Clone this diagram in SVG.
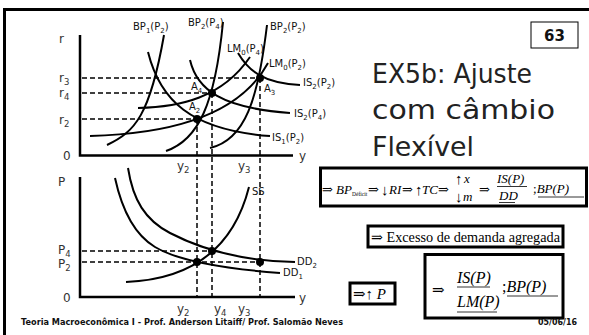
<svg xmlns="http://www.w3.org/2000/svg" width="589" height="335" viewBox="0 0 589 335">
<style>
.frame{fill:none;stroke:#000;stroke-width:3}
.ax{fill:none;stroke:#000;stroke-width:2.5}
.cv{fill:none;stroke:#000;stroke-width:2}
.ds{fill:none;stroke:#000;stroke-width:1.5;stroke-dasharray:5 3}
.dot{fill:#000}
.lb{font-family:"DejaVu Sans",sans-serif;font-size:10px;fill:#111}
.al{font-family:"DejaVu Sans",sans-serif;font-size:12px;fill:#333}
.sb{font-size:7px}
.s9{font-size:8.5px}
.ttl{font-family:"DejaVu Sans",sans-serif;font-size:27px;fill:#222}
.bx{fill:#fff;stroke:#000;stroke-width:3}
.fm{font-family:"Liberation Serif","DejaVu Serif",serif;fill:#000}
.f1{font-size:13px}
.ar{font-size:13px}
.vr{font-size:15px}
.it{font-style:italic}
.ul{stroke:#000;stroke-width:0.8}
.ft{font-family:"DejaVu Sans",sans-serif;font-weight:bold;font-size:8.5px;fill:#111}
</style>
<g id="frame">
<line class="frame" x1="4" y1="9.5" x2="589" y2="9.5"/>
<line class="frame" x1="4.5" y1="8" x2="4.5" y2="335"/>
</g>
<g id="page-number">
<rect x="531" y="22" width="47" height="26" fill="#fff" stroke="#000" stroke-width="1"/>
<text x="554.5" y="41" text-anchor="middle" font-family="DejaVu Sans,sans-serif" font-weight="bold" font-size="15" fill="#111">63</text>
</g>
<g id="title">
<text class="ttl" x="372" y="83" textLength="160" lengthAdjust="spacingAndGlyphs">EX5b: Ajuste</text>
<text class="ttl" x="372" y="119" textLength="183" lengthAdjust="spacingAndGlyphs">com câmbio</text>
<text class="ttl" x="372" y="156" textLength="102" lengthAdjust="spacingAndGlyphs">Flexível</text>
</g>
<g id="axes">
<polyline class="ax" points="80,35 80,155.5 293,155.5"/>
<polyline class="ax" points="80,177 80,297 295,297"/>
<text class="al" x="59" y="43">r</text>
<text class="al" x="59" y="82">r<tspan class="s9" dy="2.5">3</tspan></text>
<text class="al" x="59" y="97">r<tspan class="s9" dy="2.5">4</tspan></text>
<text class="al" x="59" y="124">r<tspan class="s9" dy="2.5">2</tspan></text>
<text class="al" x="63" y="160">0</text>
<text class="al" x="299" y="160">y</text>
<text class="al" x="177" y="170">y<tspan class="s9" dy="2.5">2</tspan></text>
<text class="al" x="238" y="170">y<tspan class="s9" dy="2.5">3</tspan></text>
<text class="al" x="58" y="186">P</text>
<text class="al" x="58" y="254">P<tspan class="s9" dy="2.5">4</tspan></text>
<text class="al" x="58" y="268">P<tspan class="s9" dy="2.5">2</tspan></text>
<text class="al" x="63" y="302">0</text>
<text class="al" x="299" y="302">y</text>
<text class="al" x="177" y="313">y<tspan class="s9" dy="2.5">2</tspan></text>
<text class="al" x="214" y="313">y<tspan class="s9" dy="2.5">4</tspan></text>
<text class="al" x="238" y="313">y<tspan class="s9" dy="2.5">3</tspan></text>
</g>
<g id="connectors">
<line class="ds" x1="82" y1="78" x2="260" y2="78"/>
<line class="ds" x1="82" y1="93" x2="212" y2="93"/>
<line class="ds" x1="82" y1="119" x2="197" y2="119"/>
<line class="ds" x1="197" y1="119" x2="197" y2="296"/>
<line class="ds" x1="212" y1="93" x2="212" y2="296"/>
<line class="ds" x1="260" y1="78" x2="260" y2="296"/>
<line class="ds" x1="82" y1="251" x2="212" y2="251"/>
<line class="ds" x1="82" y1="262" x2="260" y2="262"/>
</g>
<g id="BP1-P2">
<path class="cv" d="M107,145 C135,132 150,115 164,35"/>
<text class="lb" x="133" y="30">BP<tspan class="sb" dy="3">1</tspan><tspan dy="-3">(P</tspan><tspan class="sb" dy="3">2</tspan><tspan dy="-3">)</tspan></text>
</g>
<g id="IS1-P2">
<path class="cv" d="M148,52 C160,100 190,130 270,136"/>
<text class="lb" x="272" y="141">IS<tspan class="sb" dy="3">1</tspan><tspan dy="-3">(P</tspan><tspan class="sb" dy="3">2</tspan><tspan dy="-3">)</tspan></text>
</g>
<g id="BP2-P4">
<path class="cv" d="M166,151 C198,140 215,105 223,22"/>
<text class="lb" x="188" y="26">BP<tspan class="sb" dy="3">2</tspan><tspan dy="-3">(P</tspan><tspan class="sb" dy="3">4</tspan><tspan dy="-3">)</tspan></text>
</g>
<g id="IS2-P4">
<path class="cv" d="M190,60 C197,90 222,108 290,113"/>
<text class="lb" x="294" y="117">IS<tspan class="sb" dy="3">2</tspan><tspan dy="-3">(P</tspan><tspan class="sb" dy="3">4</tspan><tspan dy="-3">)</tspan></text>
</g>
<g id="LM0-P4">
<path class="cv" d="M138,108 C180,107 222,98 250,57"/>
<text class="lb" x="227" y="52">LM<tspan class="sb" dy="3">0</tspan><tspan dy="-3">(P</tspan><tspan class="sb" dy="3">4</tspan><tspan dy="-3">)</tspan></text>
</g>
<g id="LM0-P2">
<path class="cv" d="M90,136 C170,134 240,115 268,63"/>
<text class="lb" x="269" y="67">LM<tspan class="sb" dy="3">0</tspan><tspan dy="-3">(P</tspan><tspan class="sb" dy="3">2</tspan><tspan dy="-3">)</tspan></text>
</g>
<g id="BP2-P2">
<path class="cv" d="M210,148 C245,140 258,100 267,25"/>
<text class="lb" x="270" y="30">BP<tspan class="sb" dy="3">2</tspan><tspan dy="-3">(P</tspan><tspan class="sb" dy="3">2</tspan><tspan dy="-3">)</tspan></text>
</g>
<g id="IS2-P2">
<path class="cv" d="M238,53 C248,70 262,83 300,85"/>
<text class="lb" x="303" y="86">IS<tspan class="sb" dy="3">2</tspan><tspan dy="-3">(P</tspan><tspan class="sb" dy="3">2</tspan><tspan dy="-3">)</tspan></text>
</g>
<g id="A2"><circle class="dot" cx="197" cy="119" r="4"/><text class="lb" x="189" y="110" fill="#555">A<tspan class="sb" dy="3">2</tspan></text></g>
<g id="A4"><circle class="dot" cx="212" cy="93" r="4"/><text class="lb" x="191" y="90" fill="#555">A<tspan class="sb" dy="3">4</tspan></text></g>
<g id="A3"><circle class="dot" cx="260" cy="78" r="4"/><text class="lb" x="264" y="92" fill="#555">A<tspan class="sb" dy="3">3</tspan></text></g>
<g id="DD1">
<path class="cv" d="M115,178 C122,210 135,235 155,247 S215,268 280,273"/>
<text class="lb" x="283" y="276">DD<tspan class="sb" dy="3">1</tspan></text>
</g>
<g id="DD2">
<path class="cv" d="M128,168 C133,200 145,220 170,233 S235,261 295,262"/>
<text class="lb" x="297" y="265">DD<tspan class="sb" dy="3">2</tspan></text>
</g>
<g id="SS">
<path class="cv" d="M126,282 C175,280 230,262 249,187"/>
<text class="lb" x="252" y="195">SS</text>
</g>
<g id="E1"><circle class="dot" cx="197" cy="262" r="4"/></g>
<g id="E4"><circle class="dot" cx="212" cy="251" r="4"/></g>
<g id="E3"><circle class="dot" cx="260" cy="262" r="4"/></g>
<g id="box-chain">
<rect class="bx" x="320.5" y="168" width="266" height="38"/>
<text class="fm ar" x="322" y="194">⇒</text>
<text class="fm f1 it" x="336" y="194">BP</text>
<text class="fm" font-size="5.5" x="352" y="196">Déficit</text>
<text class="fm ar" x="368" y="194">⇒</text>
<text class="fm vr" x="381" y="195">↓</text>
<text class="fm f1 it" x="389" y="194">RI</text>
<text class="fm ar" x="402" y="194">⇒</text>
<text class="fm vr" x="415" y="195">↑</text>
<text class="fm f1 it" x="422" y="194">TC</text>
<text class="fm ar" x="438" y="194">⇒</text>
<text class="fm vr" x="455" y="184">↑</text>
<text class="fm f1 it" x="464" y="183">x</text>
<text class="fm vr" x="455" y="202">↓</text>
<text class="fm f1 it" x="463" y="201">m</text>
<text class="fm ar" x="479" y="194">⇒</text>
<text class="fm f1 it" x="497" y="183">IS(P)</text>
<line class="ul" x1="497" y1="186.5" x2="527" y2="186.5"/>
<text class="fm f1 it" x="499" y="200">DD</text>
<line class="ul" x1="499" y1="202.5" x2="515" y2="202.5"/>
<text class="fm f1" x="533" y="193">;<tspan class="it">BP(P)</tspan></text>
<line class="ul" x1="538" y1="197" x2="584" y2="197"/>
</g>
<g id="box-excess">
<rect class="bx" x="368" y="226" width="195" height="21" stroke-width="2.5"/>
<text class="fm" font-size="14.5" x="371" y="242" textLength="189" lengthAdjust="spacingAndGlyphs">⇒ Excesso de demanda agregada</text>
</g>
<g id="box-p">
<rect class="bx" x="350" y="283" width="45" height="21" stroke-width="2.5"/>
<text class="fm" font-size="15" x="353" y="299">⇒↑ <tspan class="it">P</tspan></text>
</g>
<g id="box-result">
<rect class="bx" x="425" y="254.5" width="138" height="63.5"/>
<text class="fm" font-size="15" x="432" y="295">⇒</text>
<text class="fm it" font-size="16" x="457" y="283">IS(P)</text>
<line class="ul" x1="457" y1="287" x2="490" y2="287"/>
<text class="fm it" font-size="16" x="457" y="307">LM(P)</text>
<line class="ul" x1="457" y1="312" x2="497" y2="312"/>
<text class="fm" font-size="16" x="502" y="292">;<tspan class="it">BP(P)</tspan></text>
<line class="ul" x1="507" y1="296" x2="558" y2="296"/>
</g>
<g id="footer">
<text class="ft" x="21" y="325" textLength="322" lengthAdjust="spacingAndGlyphs">Teoria Macroeconômica I - Prof. Anderson Litaiff/ Prof. Salomão Neves</text>
<text class="ft" x="538" y="325" textLength="39" lengthAdjust="spacingAndGlyphs">05/06/16</text>
</g>
</svg>
